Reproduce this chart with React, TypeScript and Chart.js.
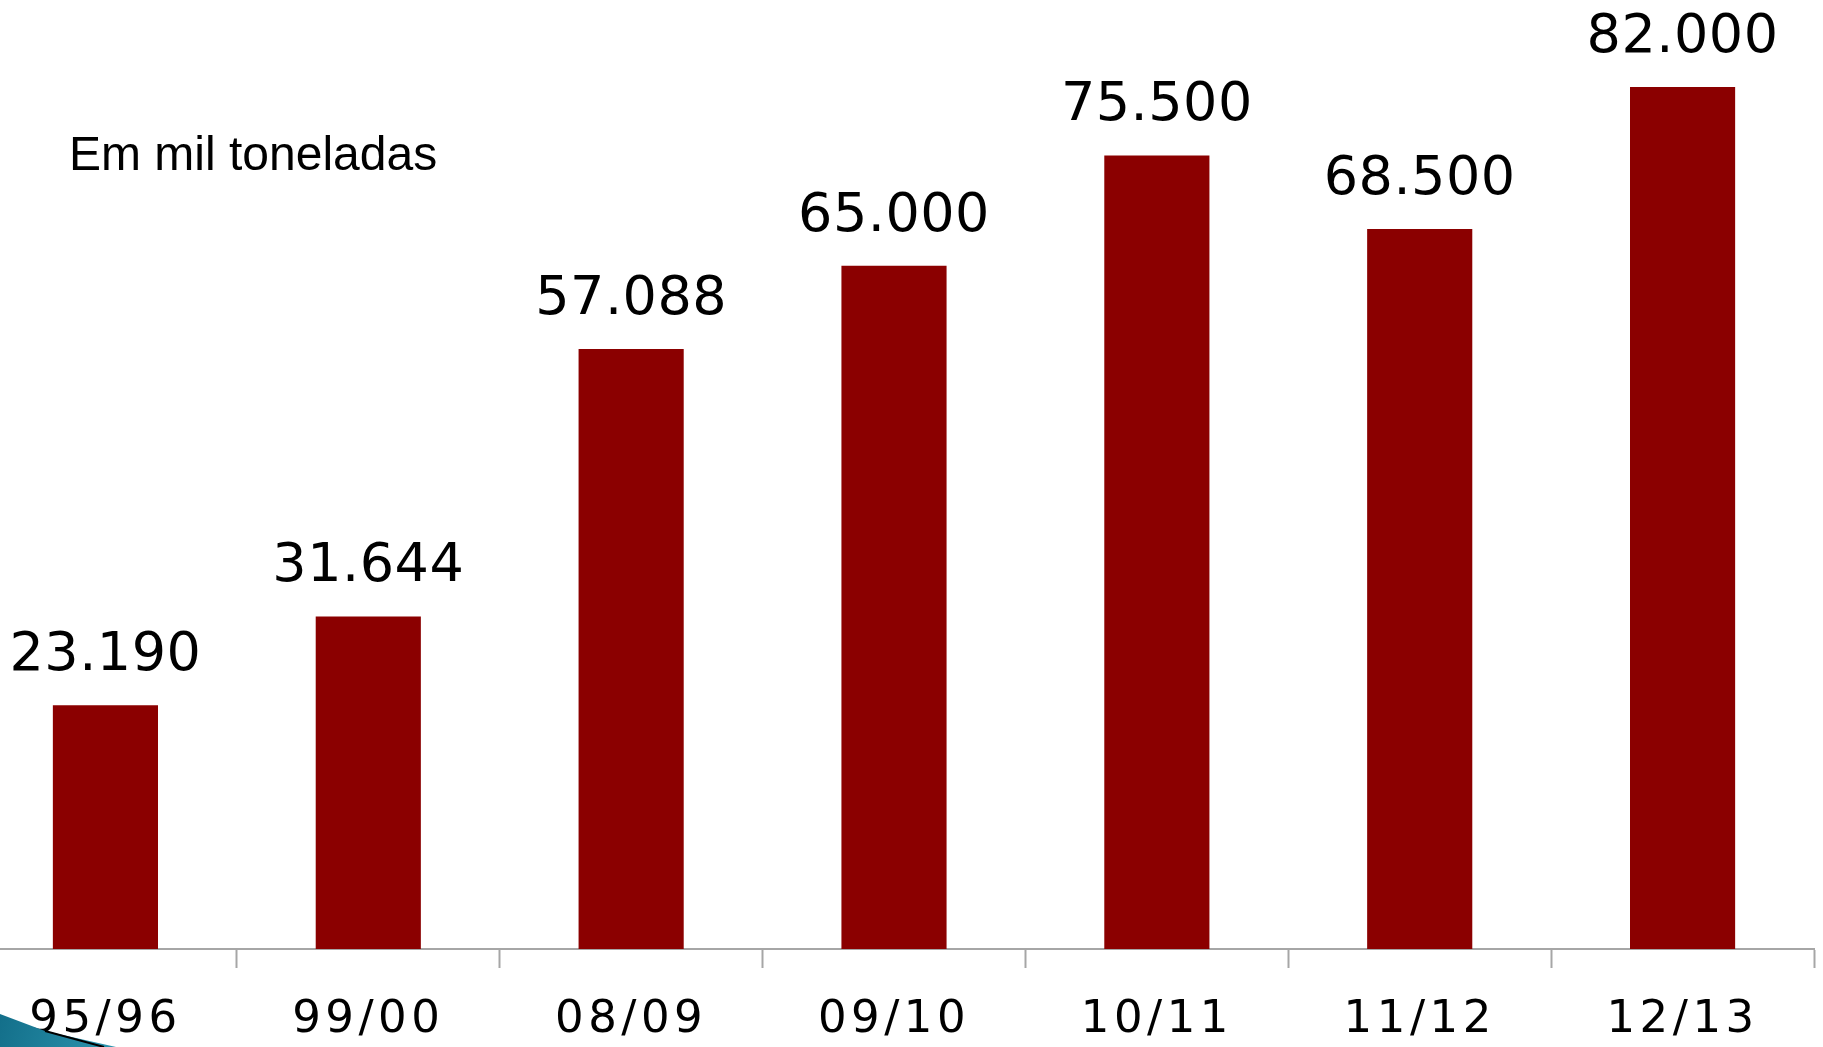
import React, { useEffect, useRef } from "react";
import { Chart, registerables } from "chart.js";

Chart.register(...registerables);

const categories = ["95/96", "99/00", "08/09", "09/10", "10/11", "11/12", "12/13"];
const production = [23190, 31644, 57088, 65000, 75500, 68500, 82000];
const unitNote = "Em mil toneladas";

const OFFSET_X = 100;
const CANVAS_W = 1950;
const CANVAS_H = 1047;

function fmt(v: number): string {
  const s = Math.round(v).toString();
  return s.replace(/\B(?=(\d{3})+(?!\d))/g, ".");
}

const labelsPlugin = {
  id: "customLabels",
  beforeDraw(chart: any) {
    (chart.ctx as any).letterSpacing = "4.5px";
  },
  beforeDatasetsDraw(chart: any) {
    (chart.ctx as any).letterSpacing = "0px";
  },
  afterDatasetsDraw(chart: any) {
    const ctx = chart.ctx;
    const meta = chart.getDatasetMeta(0);
    ctx.save();
    (ctx as any).letterSpacing = "0.5px";
    ctx.font = '54px "DejaVu Sans"';
    ctx.fillStyle = "#000000";
    ctx.textAlign = "center";
    ctx.textBaseline = "alphabetic";
    meta.data.forEach((bar: any, i: number) => {
      ctx.fillText(fmt(production[i]), bar.x, bar.y - 35);
    });
    ctx.restore();
  },
  afterDraw(chart: any) {
    const ctx = chart.ctx;
    ctx.save();
    (ctx as any).letterSpacing = "0px";
    // unit note
    ctx.font = '48px "Liberation Sans", Arial, sans-serif';
    ctx.fillStyle = "#000000";
    ctx.textAlign = "left";
    ctx.textBaseline = "alphabetic";
    ctx.fillText(unitNote, OFFSET_X + 69, 170);
    // corner decoration
    const ox = OFFSET_X;
    const g = ctx.createLinearGradient(ox, 1015, ox + 110, 1047);
    g.addColorStop(0, "#136f8a");
    g.addColorStop(1, "#2a93ad");
    ctx.fillStyle = g;
    ctx.beginPath();
    ctx.moveTo(ox, 1014);
    ctx.lineTo(ox + 45, 1031);
    ctx.lineTo(ox + 116, 1047);
    ctx.lineTo(ox, 1047);
    ctx.closePath();
    ctx.fill();
    ctx.strokeStyle = "#000000";
    ctx.lineWidth = 2;
    ctx.beginPath();
    ctx.moveTo(ox + 45, 1031);
    ctx.lineTo(ox + 104, 1047);
    ctx.stroke();
    ctx.restore();
  },
};

export default function App() {
  const ref = useRef<HTMLCanvasElement | null>(null);

  useEffect(() => {
    if (!ref.current) return;
    const chart = new Chart(ref.current, {
      type: "bar",
      data: {
        labels: categories,
        datasets: [
          {
            data: production,
            backgroundColor: "#8B0000",
            borderWidth: 0,
            barPercentage: 0.4,
            categoryPercentage: 1,
          },
        ],
      },
      options: {
        responsive: false,
        animation: false,
        devicePixelRatio: 1,
        layout: { padding: { left: OFFSET_X - 26, right: CANVAS_W - (OFFSET_X + 1814), top: 3, bottom: 0 } },
        plugins: { legend: { display: false }, tooltip: { enabled: false }, title: { display: false } },
        scales: {
          x: {
            offset: true,
            afterFit: (scale: any) => {
              scale.height = 98;
            },
            border: { display: true, color: "#a6a6a6", width: 2 },
            grid: {
              offset: true,
              drawOnChartArea: false,
              drawTicks: true,
              tickLength: 19,
              tickColor: "#a6a6a6",
              tickWidth: 2,
            },
            ticks: {
              padding: 25,
              color: "#000000",
              font: { family: '"DejaVu Sans"', size: 45 },
              maxRotation: 0,
              autoSkip: false,
            },
          },
          y: {
            display: false,
            min: 0,
            max: 90000,
          },
        },
      },
      plugins: [labelsPlugin],
    });
    return () => chart.destroy();
  }, []);

  return (
    <div
      style={{
        position: "fixed",
        left: 0,
        top: 0,
        width: 1823,
        height: 1047,
        overflow: "hidden",
        background: "#ffffff",
      }}
    >
      <canvas
        ref={ref}
        width={CANVAS_W}
        height={CANVAS_H}
        style={{ position: "absolute", left: -OFFSET_X, top: 0, width: CANVAS_W, height: CANVAS_H }}
      />
    </div>
  );
}
